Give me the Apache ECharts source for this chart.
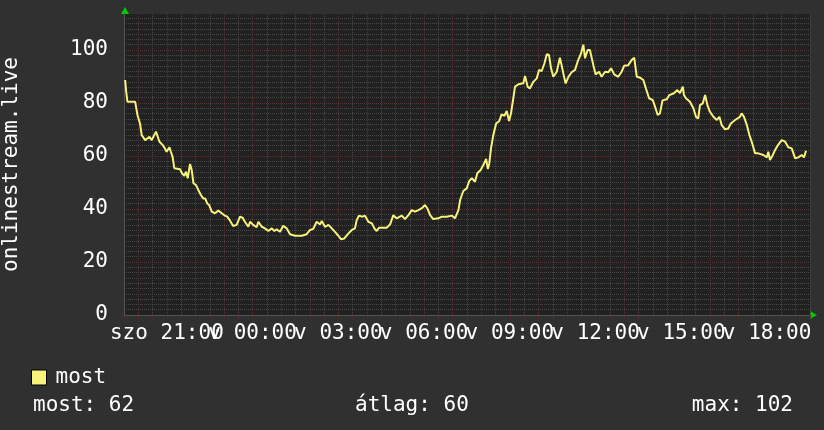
<!DOCTYPE html>
<html>
<head>
<meta charset="utf-8">
<script src="https://cdn.jsdelivr.net/npm/echarts@6/dist/echarts.min.js"></script>
<style>
html,body{margin:0;padding:0;background:#303030;}
#chart{width:824px;height:430px;}
</style>
</head>
<body>
<div id="chart"></div>
<script>
// time in hours since saturday 00:00
var times=[19.54,19.57,19.62,19.89,19.94,19.97,20.06,20.12,20.24,20.29,20.39,20.47,20.53,20.62,20.68,20.74,20.85,20.93,20.99,21.09,21.14,21.2,21.26,21.32,21.46,21.53,21.61,21.67,21.73,21.81,21.87,21.93,22.02,22.1,22.19,22.27,22.34,22.41,22.48,22.57,22.68,22.8,22.92,23.03,23.11,23.21,23.32,23.44,23.56,23.65,23.73,23.85,23.91,24.02,24.08,24.14,24.2,24.32,24.43,24.55,24.67,24.76,24.84,24.96,25.07,25.19,25.31,25.48,25.72,25.89,26.01,26.12,26.24,26.36,26.42,26.53,26.65,26.77,26.88,27,27.09,27.21,27.33,27.47,27.58,27.64,27.72,27.84,27.93,28.05,28.17,28.26,28.34,28.42,28.69,28.81,28.92,29.04,29.22,29.33,29.45,29.57,29.68,29.8,29.92,30.03,30.11,30.21,30.32,30.5,30.62,30.79,30.97,31.08,31.2,31.26,31.37,31.49,31.58,31.67,31.78,31.86,31.98,32.07,32.17,32.23,32.28,32.34,32.42,32.52,32.63,32.71,32.81,32.89,32.97,33.04,33.12,33.18,33.3,33.47,33.53,33.62,33.7,33.82,33.94,34.02,34.11,34.21,34.29,34.37,34.44,34.52,34.64,34.75,34.81,34.87,34.95,35.05,35.16,35.28,35.37,35.49,35.57,35.63,35.72,35.8,35.92,36,36.12,36.21,36.33,36.44,36.54,36.65,36.79,36.91,37,37.14,37.26,37.35,37.44,37.55,37.67,37.76,37.87,38,38.08,38.17,38.25,38.34,38.49,38.58,38.74,38.86,38.95,39.05,39.09,39.16,39.3,39.42,39.51,39.59,39.65,39.75,39.83,39.91,40,40.12,40.24,40.33,40.41,40.53,40.64,40.73,40.88,41.05,41.11,41.19,41.29,41.38,41.46,41.58,41.69,41.87,41.99,42.04,42.1,42.2,42.28,42.36,42.51,42.63,42.74,42.86,42.98,43.09,43.21,43.29,43.36];
var most=[88.7,84.9,80.5,80.5,79.9,75.5,72.3,67.9,66,65.4,67.3,66,66.7,69.2,69.2,65.4,64.2,62.9,61.6,63.3,61.6,59.7,55.4,54.7,55,53.5,52.5,54.1,51.6,57,54.7,49.7,49,47.2,45.3,44,44,42.1,41.5,39,38.4,39.4,38.4,37.5,37.1,35.6,33.6,34,37.1,36.7,35.2,33.3,35.2,34,34.6,33.1,35.2,33.3,32.7,31.7,32.7,31.7,32.3,31.4,33.7,32.7,30.5,29.9,29.9,30.5,32.1,32.5,35.2,34.2,35.5,33.3,34,32.7,31.4,29.9,28.6,28.9,30.5,32.1,32.7,35.8,37.5,37.1,37.5,35.2,34.6,32.7,31.7,32.9,32.9,34.2,37.6,36.5,37.5,36.2,37.7,39.6,39,39.6,40.3,41.5,40.3,37.7,36.2,36.5,37.1,37.1,37.5,36.5,39.6,43.4,46.8,47.8,50.6,51.6,50.3,53.5,54.7,56.6,58.9,55.1,57.2,62.9,67.9,72.3,73.2,75.7,75.2,77,73.2,76.1,81.8,86.2,87.1,87.5,90.2,86.2,85.5,88,89.3,92.5,92,95,98.4,98.1,93.1,89.9,91.8,97.1,94.3,91.2,87.4,89.9,91.6,92.5,95.6,98.7,102,96.9,100,100,94.3,90.8,91.8,89.9,91.8,91.6,93.1,90.8,89.9,91.8,94.1,94.3,96.2,97.1,89.9,89.6,88.7,85.5,81.8,81.1,78.6,75.5,76.1,81,81.4,83,83.7,84.9,83.7,86.2,83,81.8,80.5,78,74.8,74.2,79.2,79.9,83,79.2,76.7,74.8,73.6,74.8,71.7,70.1,70.4,72.3,73.6,74.8,76.1,74.8,71.7,67.9,65.4,61,61,60.4,59.5,61.6,58.5,60.4,62.3,63.8,66,65.4,63.3,62.9,59.1,59.5,60.4,59.5,62];
var labelHours=[21,24,27,30,33,36,39,42];
var labelTexts=['szo 21:00','v 00:00','v 03:00','v 06:00','v 09:00','v 12:00','v 15:00','v 18:00'];
var statNames=['most','átlag','max'];
var statValues=[62,60,102];

var mono='DejaVu Sans Mono';
var red='#5c3030', grey='#474747';
var hColors=[red];
for(var i=0;i<9;i++)hColors.push(grey);

var series=[];
for(var i=0;i<times.length;i++)series.push([times[i],most[i]]);

var chart=echarts.init(document.getElementById('chart'));
chart.setOption({
    animation:false,
    backgroundColor:'#303030',
    grid:{left:124,right:14,top:14,bottom:115,show:true,backgroundColor:'#212121',borderWidth:0,outerBoundsMode:'none'},
    legend:{
        data:['most'],left:31,top:367,padding:0,icon:'rect',itemWidth:15,itemHeight:15,
        itemStyle:{borderColor:'#000',borderWidth:1},
        textStyle:{color:'#fff',fontFamily:mono,fontSize:21,padding:[0,0,0,4]}
    },
    xAxis:{
        type:'value',min:19.5,max:43.5,interval:0.5,
        axisLine:{show:true,lineStyle:{color:'#555',width:1}},
        axisTick:{show:true,length:3,lineStyle:{color:red}},
        splitLine:{show:true,lineStyle:{color:[grey,red],type:[1,1],width:1}},
        axisLabel:{
            color:'#fff',fontFamily:mono,fontSize:21,margin:8,
            showMinLabel:true,showMaxLabel:true,
            formatter:function(v){
                var k=labelHours.indexOf(Math.round(v*2)/2);
                return k<0?'':labelTexts[k];
            }
        }
    },
    yAxis:{
        type:'value',min:0,max:113.6,interval:2,
        name:'onlinestream.live',nameLocation:'middle',nameGap:102,nameRotate:90,
        nameTextStyle:{color:'#fff',fontFamily:mono,fontSize:21},
        axisLine:{show:true,lineStyle:{color:'#555',width:1}},
        axisTick:{show:false},
        splitLine:{show:true,showMaxLine:false,lineStyle:{color:hColors,type:[1,1],width:1}},
        axisLabel:{
            color:'#fff',fontFamily:mono,fontSize:21,margin:16,showMaxLabel:false,
            formatter:function(v){return Math.round(v)%20===0?String(Math.round(v)):'';}
        }
    },
    series:[{
        name:'most',type:'line',data:series,showSymbol:false,
        lineStyle:{color:'#f6f27a',width:2},itemStyle:{color:'#f6f27a'}
    }],
    graphic:[
        {type:'polygon',shape:{points:[[121,14],[129,14],[125,7]]},style:{fill:'#00cc00'}},
        {type:'polygon',shape:{points:[[810,311],[810,319],[817,315]]},style:{fill:'#00cc00'}},
        {type:'text',left:33,top:395,style:{text:statNames[0]+': '+statValues[0],fill:'#fff',font:'21px "DejaVu Sans Mono"'}},
        {type:'text',left:355,top:395,style:{text:statNames[1]+': '+statValues[1],fill:'#fff',font:'21px "DejaVu Sans Mono"'}},
        {type:'text',right:31,top:395,style:{text:statNames[2]+': '+statValues[2],fill:'#fff',font:'21px "DejaVu Sans Mono"'}}
    ]
});
</script>
</body>
</html>
